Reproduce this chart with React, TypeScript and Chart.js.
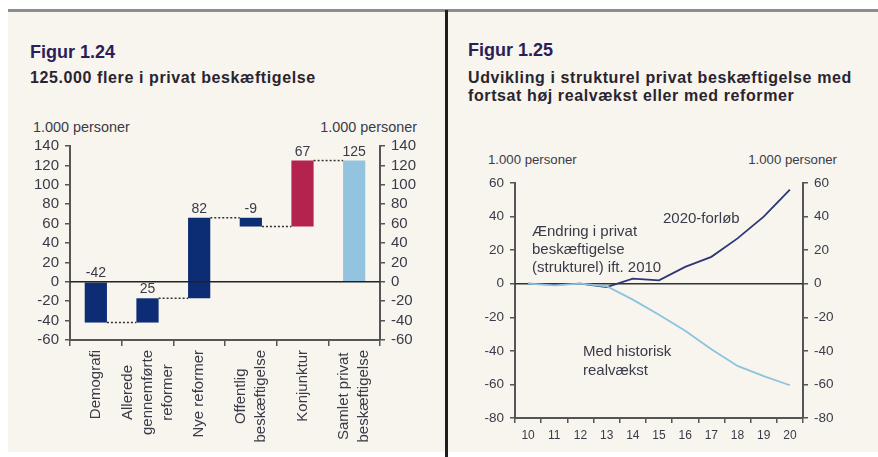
import React, { useEffect, useRef } from "react";
import { Chart, registerables } from "chart.js";

Chart.register(...registerables);

// ---------- Data: Figur 1.24 (waterfall) ----------
const barCategories: string[][] = [
  ["Demografi"],
  ["Allerede", "gennemførte", "reformer"],
  ["Nye reformer"],
  ["Offentlig", "beskæftigelse"],
  ["Konjunktur"],
  ["Samlet privat", "beskæftigelse"],
];
const barValueLabels = ["-42", "25", "82", "-9", "67", "125"];
const barStarts = [0, -42, -17, 66, 57, 0];
const barEnds = [-42, -17, 66, 57, 125, 125];
const barLeftTicks = [-60, -40, -20, 0, 20, 40, 60, 80, 100, 120, 140];

// ---------- Data: Figur 1.25 (lines) ----------
const years = ["10", "11", "12", "13", "14", "15", "16", "17", "18", "19", "20"];
const reformPath = [0, -0.5, 0, -2, 3, 2, 10, 16, 27, 40, 56];
const historicPath = [0, -1, 0, -1.5, -9.5, -18.5, -28, -39, -49, -55, -60.5];
const lineTicks = [-80, -60, -40, -20, 0, 20, 40, 60];

// ---------- Style ----------
const FONT = '"Liberation Sans", Arial, sans-serif';
const PANEL = "#f7f5ee";
const NAVY = "#0c2c74";
const RED = "#b3234d";
const LIGHT = "#93c4df";
const DARKLINE = "#2e3675";
const LIGHTLINE = "#8ec3df";
const AXIS = "#555555";
const TEXT = "#3a3a48";
const barColors = [NAVY, NAVY, NAVY, NAVY, RED, LIGHT];

function WaterfallChart() {
  const ref = useRef<HTMLCanvasElement>(null);
  useEffect(() => {
    const canvas = ref.current!;
    const overlay = {
      id: "waterfallOverlay",
      afterDatasetsDraw(chart: any) {
        const ctx = chart.ctx as CanvasRenderingContext2D;
        const area = chart.chartArea;
        const ys = chart.scales.y;
        const xs = chart.scales.x;
        const meta = chart.getDatasetMeta(0);
        ctx.save();
        // zero line
        const y0 = ys.getPixelForValue(0);
        ctx.strokeStyle = "#222";
        ctx.lineWidth = 1.5;
        ctx.beginPath();
        ctx.moveTo(area.left, y0);
        ctx.lineTo(area.right, y0);
        ctx.stroke();
        // dotted connectors
        ctx.setLineDash([2, 2]);
        ctx.lineWidth = 1.5;
        ctx.strokeStyle = "#333";
        for (let i = 0; i < barEnds.length - 1; i++) {
          const a = meta.data[i] as any;
          const b = meta.data[i + 1] as any;
          const y = ys.getPixelForValue(barEnds[i]);
          ctx.beginPath();
          ctx.moveTo(a.x + a.width / 2, y);
          ctx.lineTo(b.x - b.width / 2, y);
          ctx.stroke();
        }
        ctx.setLineDash([]);
        // value labels
        ctx.fillStyle = TEXT;
        ctx.font = `14px ${FONT}`;
        ctx.textAlign = "center";
        ctx.textBaseline = "alphabetic";
        for (let i = 0; i < barEnds.length; i++) {
          const bar = meta.data[i] as any;
          const top = ys.getPixelForValue(Math.max(barStarts[i], barEnds[i]));
          ctx.fillText(barValueLabels[i], bar.x, top - 5);
        }
        // rotated category labels
        ctx.font = `15px ${FONT}`;
        const startY = area.bottom + 10;
        const gap = 20;
        barCategories.forEach((lines, i) => {
          const cx = xs.getPixelForValue(i);
          const w = Math.max(...lines.map((l) => ctx.measureText(l).width));
          const n = lines.length;
          lines.forEach((line, j) => {
            const x = cx + (j - (n - 1) / 2) * gap;
            ctx.save();
            ctx.translate(x, startY + w / 2);
            ctx.rotate(-Math.PI / 2);
            ctx.textAlign = "center";
            ctx.textBaseline = "middle";
            ctx.fillText(line, 0, 0);
            ctx.restore();
          });
        });
        ctx.restore();
      },
    };
    const yScale = (position: "left" | "right", width: number) => ({
      position,
      min: -60,
      max: 140,
      afterBuildTicks: (s: any) => {
        s.ticks = barLeftTicks.map((v) => ({ value: v }));
      },
      afterFit: (s: any) => {
        s.width = width;
      },
      ticks: { font: { family: FONT, size: 15 }, color: TEXT, padding: 6, autoSkip: false },
      grid: { drawOnChartArea: false, tickLength: 5, color: AXIS, lineWidth: 1.5 },
      border: { color: AXIS, width: 2 },
    });
    const chart = new Chart(canvas, {
      type: "bar",
      data: {
        labels: barCategories.map((l) => l.join(" ")),
        datasets: [
          {
            data: barStarts.map((s, i) => [s, barEnds[i]]) as any,
            backgroundColor: barColors,
            borderWidth: 0,
            barPercentage: 0.43,
            categoryPercentage: 1,
            yAxisID: "y",
          },
        ],
      },
      options: {
        animation: false,
        responsive: false,
        maintainAspectRatio: false,
        layout: { padding: { top: 26, left: 0, right: 0, bottom: 0 } },
        plugins: { legend: { display: false }, tooltip: { enabled: false } },
        scales: {
          x: {
            ticks: { display: false },
            grid: { offset: true, drawOnChartArea: false, tickLength: 6, color: AXIS, lineWidth: 1.5 },
            border: { color: AXIS, width: 2 },
            afterFit: (s: any) => {
              s.height = 110;
            },
          },
          y: yScale("left", 60) as any,
          y2: yScale("right", 60) as any,
        },
      },
      plugins: [overlay],
    });
    return () => chart.destroy();
  }, []);
  return (
    <canvas
      ref={ref}
      width={430}
      height={330}
      style={{ position: "absolute", left: 10, top: 120, width: 430, height: 330 }}
    />
  );
}

function LinesChart() {
  const ref = useRef<HTMLCanvasElement>(null);
  useEffect(() => {
    const canvas = ref.current!;
    const zero = {
      id: "zeroLine",
      beforeDatasetsDraw(chart: any) {
        const ctx = chart.ctx as CanvasRenderingContext2D;
        const area = chart.chartArea;
        const y0 = chart.scales.y.getPixelForValue(0);
        ctx.save();
        ctx.strokeStyle = "#333";
        ctx.lineWidth = 1.5;
        ctx.beginPath();
        ctx.moveTo(area.left, y0);
        ctx.lineTo(area.right, y0);
        ctx.stroke();
        ctx.restore();
      },
    };
    const yScale = (position: "left" | "right", width: number) => ({
      position,
      min: -80,
      max: 60,
      afterBuildTicks: (s: any) => {
        s.ticks = lineTicks.map((v) => ({ value: v }));
      },
      afterFit: (s: any) => {
        s.width = width;
      },
      ticks: { font: { family: FONT, size: 13.5 }, color: TEXT, padding: 6, autoSkip: false },
      grid: { drawOnChartArea: false, tickLength: 5, color: AXIS, lineWidth: 1.5 },
      border: { color: AXIS, width: 2 },
    });
    const chart = new Chart(canvas, {
      type: "line",
      data: {
        labels: years,
        datasets: [
          {
            data: historicPath,
            borderColor: LIGHTLINE,
            borderWidth: 1.8,
            pointRadius: 0,
            tension: 0,
            yAxisID: "y",
          },
          {
            data: reformPath,
            borderColor: DARKLINE,
            borderWidth: 1.8,
            pointRadius: 0,
            tension: 0,
            yAxisID: "y",
          },
        ],
      },
      options: {
        animation: false,
        responsive: false,
        maintainAspectRatio: false,
        layout: { padding: { top: 23, left: 0, right: 0, bottom: 0 } },
        plugins: { legend: { display: false }, tooltip: { enabled: false } },
        scales: {
          x: {
            offset: true,
            ticks: { font: { family: FONT, size: 12 }, color: TEXT, padding: 5, maxRotation: 0, autoSkip: false },
            grid: { offset: true, drawOnChartArea: false, tickLength: 5, color: AXIS, lineWidth: 1.5 },
            border: { color: AXIS, width: 2 },
            afterFit: (s: any) => {
              s.height = 27;
            },
          },
          y: yScale("left", 65) as any,
          y2: yScale("right", 57) as any,
        },
      },
      plugins: [zero],
    });
    return () => chart.destroy();
  }, []);
  return (
    <canvas
      ref={ref}
      width={410}
      height={285}
      style={{ position: "absolute", left: 450, top: 160, width: 410, height: 285 }}
    />
  );
}

function T(props: {
  x: number;
  base: number;
  size: number;
  bold?: boolean;
  color?: string;
  ls?: number;
  right?: boolean;
  children: React.ReactNode;
}) {
  const top = props.base - 0.8465 * props.size;
  const style: React.CSSProperties = {
    position: "absolute",
    top,
    fontFamily: FONT,
    fontSize: props.size,
    lineHeight: `${props.size}px`,
    fontWeight: props.bold ? 700 : 400,
    color: props.color || TEXT,
    letterSpacing: props.ls ? `${props.ls}px` : undefined,
    whiteSpace: "nowrap",
  };
  if (props.right) style.right = 878 - props.x;
  else style.left = props.x;
  return <div style={style}>{props.children}</div>;
}

export default function App() {
  return (
    <div
      style={{
        position: "fixed",
        left: 0,
        top: 0,
        width: 878,
        height: 457,
        background: "#ffffff",
        overflow: "hidden",
      }}
    >
      <div style={{ position: "absolute", left: 8, top: 9, width: 870, height: 3, background: "#8c8c8c" }} />
      <div style={{ position: "absolute", left: 8, top: 12, width: 870, height: 440, background: PANEL }} />
      <div style={{ position: "absolute", left: 445, top: 10, width: 2.5, height: 447, background: "#1e1e1e" }} />

      <T x={30} base={58} size={18} bold color="#2b1d5a">Figur 1.24</T>
      <T x={30} base={83.5} size={16} bold color="#2a2430" ls={0.6}>125.000 flere i privat beskæftigelse</T>
      <T x={33} base={132} size={14.4}>1.000 personer</T>
      <T x={417} base={132} size={14.4} right>1.000 personer</T>

      <T x={468} base={56.5} size={18} bold color="#2b1d5a">Figur 1.25</T>
      <T x={468} base={83.5} size={16} bold color="#2a2430" ls={0.6}>Udvikling i strukturel privat beskæftigelse med</T>
      <T x={468} base={102} size={16} bold color="#2a2430" ls={0.6}>fortsat høj realvækst eller med reformer</T>
      <T x={488} base={164} size={13.2}>1.000 personer</T>
      <T x={837} base={164} size={13.2} right>1.000 personer</T>

      <WaterfallChart />
      <LinesChart />

      <T x={663} base={223} size={15}>2020-forløb</T>
      <T x={532} base={236} size={15}>Ændring i privat</T>
      <T x={532} base={254} size={15}>beskæftigelse</T>
      <T x={532} base={272} size={15}>(strukturel) ift. 2010</T>
      <T x={583} base={356} size={15}>Med historisk</T>
      <T x={583} base={375} size={15}>realvækst</T>
    </div>
  );
}
